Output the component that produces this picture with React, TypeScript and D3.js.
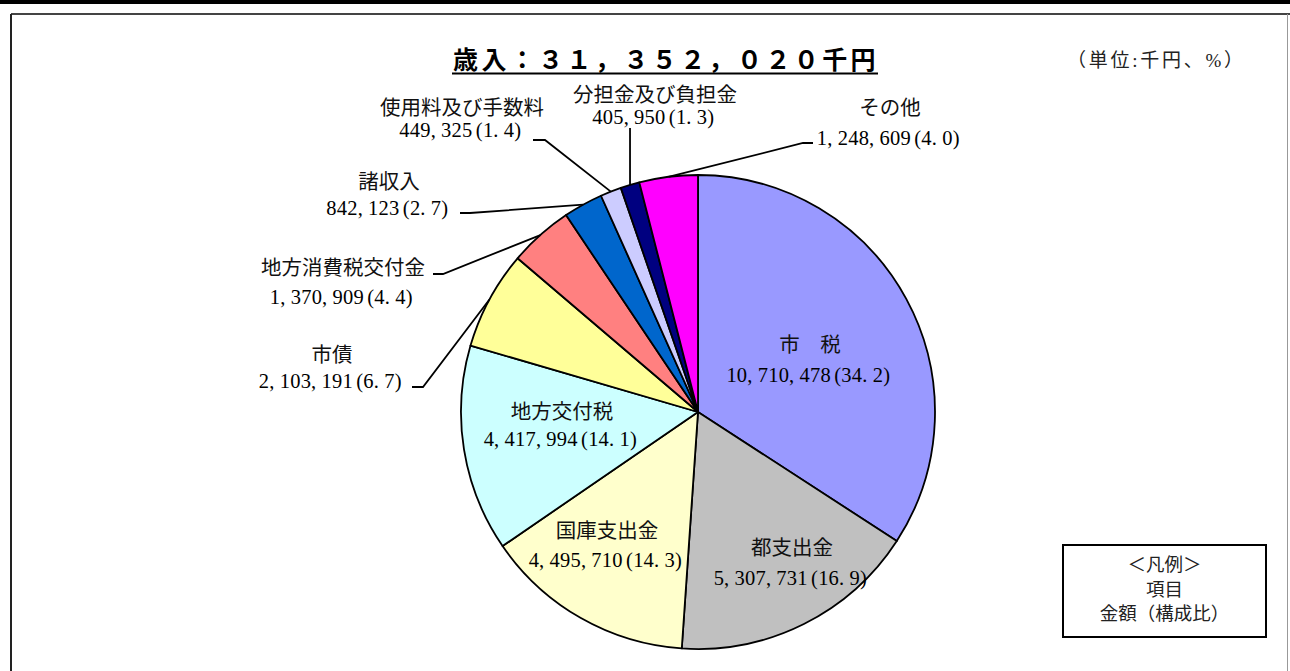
import React from "react";
import * as d3 from "d3";

const categories = [
  "市税",
  "都支出金",
  "国庫支出金",
  "地方交付税",
  "市債",
  "地方消費税交付金",
  "諸収入",
  "使用料及び手数料",
  "分担金及び負担金",
  "その他",
];
const displayNames = [
  "市　税",
  "都支出金",
  "国庫支出金",
  "地方交付税",
  "市債",
  "地方消費税交付金",
  "諸収入",
  "使用料及び手数料",
  "分担金及び負担金",
  "その他",
];
const amounts = [10710478, 5307731, 4495710, 4417994, 2103191, 1370909, 842123, 449325, 405950, 1248609];
const shares = [34.2, 16.9, 14.3, 14.1, 6.7, 4.4, 2.7, 1.4, 1.3, 4.0];
const colors = ["#9999FF", "#C0C0C0", "#FFFFCC", "#CCFFFF", "#FFFF99", "#FF8080", "#0066CC", "#CCCCFF", "#000080", "#FF00FF"];

const titleText = "歳入：３１，３５２，０２０千円";
const unitText = "（単位:千円、%）";
const legendLines = ["＜凡例＞", "項目", "金額（構成比）"];

// label layout: center x, name baseline, value baseline, leader stub (null = inside label)
const labelLayout: { cx: number; ny: number; vy: number; leader: number[][] | null }[] = [
  { cx: 810, ny: 352, vy: 382, leader: null },
  { cx: 792, ny: 555, vy: 585, leader: null },
  { cx: 607, ny: 538, vy: 567, leader: null },
  { cx: 562, ny: 419, vy: 446, leader: null },
  { cx: 332, ny: 362, vy: 388, leader: [[412, 387], [423, 387]] },
  { cx: 343, ny: 275, vy: 304, leader: [[433, 274], [443, 274]] },
  { cx: 389, ny: 189, vy: 215, leader: [[460, 213], [470, 213]] },
  { cx: 462, ny: 115, vy: 137, leader: [[533, 140], [545, 140]] },
  { cx: 655, ny: 102, vy: 124, leader: [[-1, 128]] },
  { cx: 890, ny: 115, vy: 145, leader: [[813, 143], [803, 143]] },
];

const W = 1290;
const H = 671;
const CX = 698;
const CY = 412;
const R = 237;
const FONT = "'Liberation Serif', 'Noto Sans CJK JP', serif";
const CELL = 10.45;

function fmtValue(v: number, s: number) {
  return d3.format(",")(v) + "(" + d3.format(".1f")(s) + ")";
}

function MonoText({ str, cx, y, size }: { str: string; cx: number; y: number; size: number }) {
  const n = str.length;
  const x0 = cx - (n * CELL) / 2;
  const xs = Array.from(str, (ch, i) => (x0 + i * CELL + (ch === "(" ? 3.4 : 0)).toFixed(2)).join(" ");
  return (
    <text x={xs} y={y} fontSize={size} fontFamily={FONT} fill="#000">
      {str}
    </text>
  );
}

export default function App() {
  const pie = d3
    .pie<number>()
    .sort(null)
    .value((d) => d)
    .startAngle(0)
    .endAngle(2 * Math.PI);
  const arcs = pie(amounts);
  const arc = d3.arc<d3.PieArcDatum<number>>().innerRadius(0).outerRadius(R);

  const titleCell = 28.4;
  const titleXs = Array.from(titleText, (_, i) => (452 + 1 + i * titleCell).toFixed(1)).join(" ");

  return (
    <svg
      width={W}
      height={H}
      style={{ position: "absolute", left: 0, top: 0, background: "#fff" }}
      xmlns="http://www.w3.org/2000/svg"
    >
      <rect x={0} y={0} width={W} height={H} fill="#fff" />
      <rect x={0} y={0} width={W} height={4} fill="#000" />
      <line x1={11} y1={14} x2={W} y2={14} stroke="#444" strokeWidth={2} />
      <line x1={11} y1={14} x2={11} y2={H} stroke="#222" strokeWidth={2} />
      <line x1={1287.5} y1={14} x2={1287.5} y2={H} stroke="#999" strokeWidth={1} />

      {/* title */}
      <text
        x={titleXs}
        y={69}
        fontSize={25}
        fontWeight="bold"
        fontFamily="'Noto Sans CJK JP', sans-serif"
        fill="#000"
      >
        {titleText}
      </text>
      <line x1={452} y1={73.5} x2={878} y2={73.5} stroke="#000" strokeWidth={2} />

      <text
        x={1155}
        y={67}
        fontSize={19}
        textAnchor="middle"
        fontFamily={FONT}
        fill="#222"
        textLength={176}
        lengthAdjust="spacing"
      >
        {unitText}
      </text>

      {/* pie */}
      <g transform={`translate(${CX},${CY})`}>
        {arcs.map((a, i) => (
          <path key={categories[i]} d={arc(a) || ""} fill={colors[i]} stroke="#000" strokeWidth={1.8} strokeLinejoin="round" />
        ))}
      </g>

      {/* leaders */}
      {arcs.map((a, i) => {
        const lay = labelLayout[i];
        if (!lay.leader) return null;
        const mid = (a.startAngle + a.endAngle) / 2;
        const px = CX + R * Math.sin(mid);
        const py = CY - R * Math.cos(mid);
        const pts = lay.leader.map((p) => [p[0] < 0 ? px : p[0], p[1]]);
        pts.push([px, py]);
        return (
          <polyline
            key={"l" + i}
            points={pts.map((p) => p.join(",")).join(" ")}
            fill="none"
            stroke="#000"
            strokeWidth={1.8}
          />
        );
      })}

      {/* labels */}
      {categories.map((c, i) => {
        const lay = labelLayout[i];
        return (
          <g key={"t" + c}>
            <text
              x={lay.cx}
              y={lay.ny}
              fontSize={20.5}
              textAnchor="middle"
              fontFamily={FONT}
              fill="#111"
            >
              {displayNames[i]}
            </text>
            <MonoText str={fmtValue(amounts[i], shares[i])} cx={lay.cx} y={lay.vy} size={20.5} />
          </g>
        );
      })}

      {/* legend */}
      <rect x={1063} y={545} width={203} height={92} fill="#fff" stroke="#000" strokeWidth={2} />
      {legendLines.map((t, i) => (
        <text
          key={t}
          x={1164.5}
          y={571 + i * 24.5}
          fontSize={18.5}
          textAnchor="middle"
          fontFamily={FONT}
          fill="#222"
        >
          {t}
        </text>
      ))}
    </svg>
  );
}
